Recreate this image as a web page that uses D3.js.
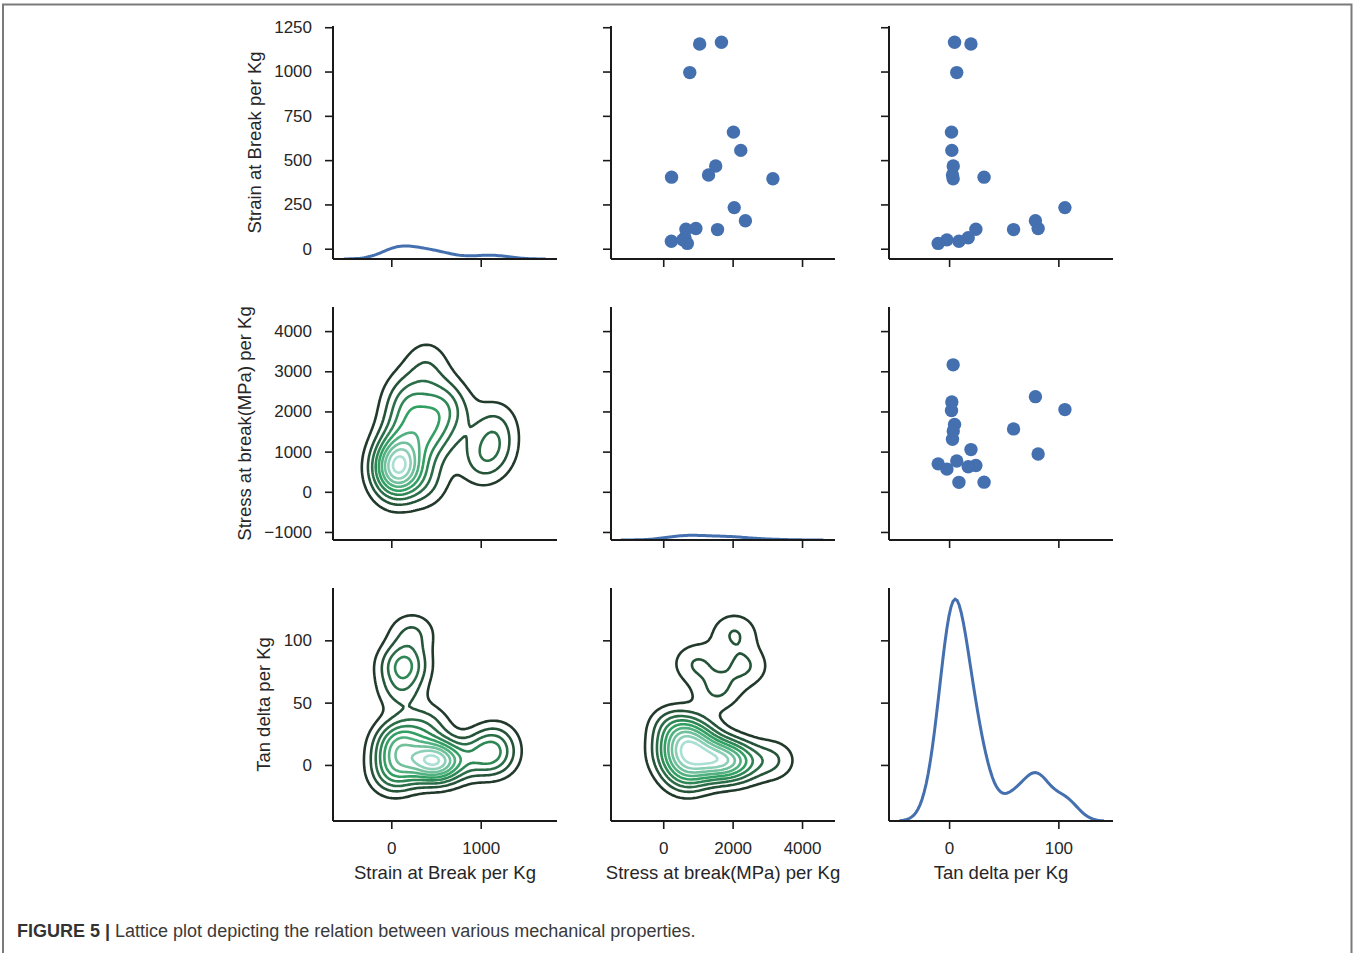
<!DOCTYPE html>
<html>
<head>
<meta charset="utf-8">
<script src="https://cdn.jsdelivr.net/npm/d3@7"></script>
<style>
  body { margin: 0; background: #fff; }
  svg text { font-family: "Liberation Sans", Arial, sans-serif; fill: #262626; }
</style>
</head>
<body>
<svg id="chart" width="1357" height="953"></svg>
<script>
// values (18 samples)
var strain   = [1165, 1155, 994, 658, 555, 467, 416, 395, 404, 232, 158, 114, 108, 110, 62, 42, 50, 30];
var stress   = [1678, 1050, 765, 2024, 2235, 1512, 1306, 3160, 240, 2046, 2368, 942, 1565, 655, 625, 235, 565, 695];
var tanDelta = [5, 20, 7, 2.2, 2.5, 3.8, 3.1, 3.7, 32, 106, 79, 81.5, 59, 24.5, 17.5, 9, -2, -10];

var varNames = ["Strain at Break per Kg", "Stress at break(MPa) per Kg", "Tan delta per Kg"];
var rowTicks = [[0, 250, 500, 750, 1000, 1250], [-1000, 0, 1000, 2000, 3000, 4000], [0, 50, 100]];
var colTicks = [[0, 1000], [0, 2000, 4000], [0, 100]];
// axis limits as shown in the figure
var rowLimits = [[-58, 1257], [-1200, 4600], [-45, 142]];
var colLimits = [[-652, 1853], [-1505, 4950], [-55, 150]];

var vars = [strain, stress, tanDelta];

var panelW = 224, panelH = 233;
var lefts = [333, 611, 889];
var tops = [26, 307, 588];

var svg = d3.select("#chart");

// frame round the figure
svg.append("path")
    .attr("d", "M3,953V4.5H1351.5V953")
    .attr("fill", "none")
    .attr("stroke", "#7a7a7a")
    .attr("stroke-width", 2);

// ---- kde helpers (statsmodels-like scott bandwidth, cut = 3, 100 grid points)
function percentile(sorted, p) {
    var idx = p * (sorted.length - 1), lo = Math.floor(idx), hi = Math.ceil(idx);
    return sorted[lo] + (sorted[hi] - sorted[lo]) * (idx - lo);
}
function scottBw(v) {
    var s = v.slice().sort(d3.ascending);
    var iqr = (percentile(s, 0.75) - percentile(s, 0.25)) / 1.349;
    return 1.059 * Math.min(d3.deviation(v), iqr) * Math.pow(v.length, -0.2);
}
function support(v, bw) {
    var lo = d3.min(v) - 3 * bw, hi = d3.max(v) + 3 * bw;
    return d3.range(100).map(function (i) { return lo + (hi - lo) * i / 99; });
}
function gauss(u) { return Math.exp(-0.5 * u * u) / Math.sqrt(2 * Math.PI); }

function kde1(v) {
    var bw = scottBw(v);
    return support(v, bw).map(function (x) {
        return [x, d3.mean(v, function (d) { return gauss((x - d) / bw); }) / bw];
    });
}

function kde2(xv, yv) {
    var bx = scottBw(xv), by = scottBw(yv);
    var gx = support(xv, bx), gy = support(yv, by);
    var n = 100, values = new Array(n * n);
    for (var j = 0; j < n; j++) {
        for (var i = 0; i < n; i++) {
            var s = 0;
            for (var k = 0; k < xv.length; k++) {
                s += gauss((gx[i] - xv[k]) / bx) * gauss((gy[j] - yv[k]) / by);
            }
            values[j * n + i] = s / (xv.length * bx * by);
        }
    }
    return { gx: gx, gy: gy, values: values, n: n };
}

// MaxNLocator(11)-style levels, keeping those strictly inside the data range
function contourLevels(zmin, zmax) {
    var raw = (zmax - zmin) / 11;
    var mag = Math.pow(10, Math.floor(Math.log10(raw)));
    var steps = [1, 1.5, 2, 2.5, 3, 4, 5, 6, 8, 10];
    var step = mag * steps.find(function (s) { return s * mag >= raw * (1 - 1e-9); });
    var lev = [];
    for (var k = Math.floor(zmin / step); k * step <= zmax + step; k++) lev.push(k * step);
    return lev.filter(function (l) { return l > zmin && l < zmax; });
}

// BuGn_d colour map
var bugnD = d3.scaleLinear().domain([0, 0.5, 1])
    .range(["#223a2b", "#33a063", "#aadfd3"]).interpolate(d3.interpolateRgb);

var diagCurves = vars.map(kde1);
var maxDensity = d3.max(diagCurves, function (c) { return d3.max(c, function (p) { return p[1]; }); });

var blue = "#4470b0";

for (var i = 0; i < 3; i++) {
    for (var j = 0; j < 3; j++) {
        var x = d3.scaleLinear().domain(colLimits[j]).range([0, panelW]);
        var y = d3.scaleLinear().domain(rowLimits[i]).range([panelH, 0]);

        var g = svg.append("g")
            .attr("transform", "translate(" + lefts[j] + "," + tops[i] + ")");

        var clipId = "clip" + i + j;
        g.append("clipPath").attr("id", clipId)
            .append("rect").attr("width", panelW).attr("height", panelH);
        var plot = g.append("g").attr("clip-path", "url(#" + clipId + ")");

        if (i === j) {
            // diagonal: density on a shared density axis
            var yd = d3.scaleLinear().domain([0, maxDensity * 1.05]).range([panelH, 0]);
            plot.append("path")
                .datum(diagCurves[i])
                .attr("fill", "none")
                .attr("stroke", blue)
                .attr("stroke-width", 3)
                .attr("d", d3.line()
                    .x(function (d) { return x(d[0]); })
                    .y(function (d) { return yd(d[1]); }));
        } else if (j > i) {
            // upper: scatter
            var xv = vars[j], yv = vars[i];
            plot.selectAll("circle")
                .data(d3.range(xv.length))
                .enter().append("circle")
                .attr("cx", function (k) { return x(xv[k]); })
                .attr("cy", function (k) { return y(yv[k]); })
                .attr("r", 6.7)
                .attr("fill", blue);
        } else {
            // lower: bivariate kde contours
            var kd = kde2(vars[j], vars[i]);
            var zmin = d3.min(kd.values), zmax = d3.max(kd.values);
            var levels = contourLevels(zmin, zmax);
            var cnorm = d3.scaleLinear().domain([levels[0], levels[levels.length - 1]]).range([0, 1]);
            var gx0 = kd.gx[0], dgx = kd.gx[1] - kd.gx[0];
            var gy0 = kd.gy[0], dgy = kd.gy[1] - kd.gy[0];
            var proj = d3.geoTransform({
                point: function (px, py) {
                    this.stream.point(x(gx0 + (px - 0.5) * dgx), y(gy0 + (py - 0.5) * dgy));
                }
            });
            plot.selectAll("path.c")
                .data(d3.contours().size([kd.n, kd.n]).thresholds(levels)(kd.values))
                .enter().append("path")
                .attr("class", "c")
                .attr("fill", "none")
                .attr("stroke", function (d) { return bugnD(cnorm(d.value)); })
                .attr("stroke-width", 2.6)
                .attr("stroke-linejoin", "round")
                .attr("d", d3.geoPath(proj));
        }

        // axes
        var ax = g.append("g")
            .attr("transform", "translate(0," + panelH + ")")
            .call(d3.axisBottom(x).tickValues(colTicks[j]).tickSize(8).tickPadding(13)
                .tickFormat(i === 2 ? d3.format("d") : ""));
        var ay = g.append("g")
            .call(d3.axisLeft(y).tickValues(rowTicks[i]).tickSize(8).tickPadding(13)
                .tickFormat(j === 0 ? d3.format("d") : ""));
        [ax, ay].forEach(function (a) {
            a.select(".domain").attr("stroke", "#1a1a1a").attr("stroke-width", 2)
                .attr("d", a === ax ? "M0,0H" + panelW : "M0,0V" + panelH);
            a.selectAll(".tick line").attr("stroke", "#1a1a1a").attr("stroke-width", 1.6);
            a.selectAll(".tick text").style("font-size", "17px").attr("fill", "#262626");
        });

        if (i === 2) {
            g.append("text")
                .attr("x", panelW / 2)
                .attr("y", panelH + 58)
                .attr("text-anchor", "middle")
                .style("font-size", "18.5px")
                .text(varNames[j]);
        }
        if (j === 0) {
            var minLeft = 0;
            ay.selectAll(".tick text").each(function () {
                var b = this.getBBox();
                minLeft = Math.min(minLeft, b.x);
            });
            g.append("text")
                .attr("transform", "translate(" + (minLeft - 20) + "," + panelH / 2 + ") rotate(-90)")
                .attr("text-anchor", "middle")
                .attr("dominant-baseline", "central")
                .style("font-size", "18.5px")
                .text(varNames[i]);
        }
    }
}

// caption
var cap = svg.append("text")
    .attr("x", 17)
    .attr("y", 937)
    .style("font-size", "18px")
    .style("fill", "#3a3a3a");
cap.append("tspan").style("font-weight", "bold").style("fill", "#333").text("FIGURE 5 |");
cap.append("tspan").style("fill", "#3a3a3a").text(" Lattice plot depicting the relation between various mechanical properties.");
</script>
</body>
</html>
